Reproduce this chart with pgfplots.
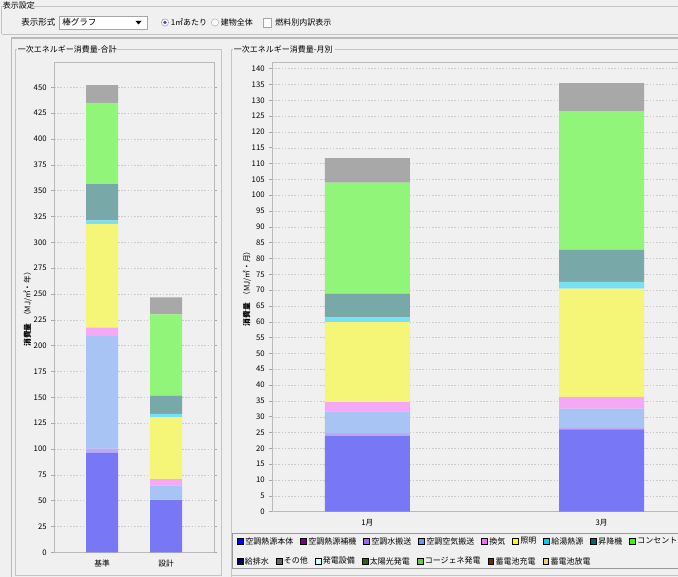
\documentclass[border=0pt]{standalone}
\usepackage{fontspec}
\setmainfont{Noto Sans CJK JP}
\usepackage{pgfplots}
\pgfplotsset{compat=1.18}
\usepackage{pgfplotstable}

\definecolor{bg}{HTML}{F0F0F0}
\definecolor{gc}{HTML}{C4C4C4}
% bar colours (as drawn, semi-transparent look)
\definecolor{c1}{HTML}{7878F7}
\definecolor{c3}{HTML}{BEA8F5}
\definecolor{c4}{HTML}{A8C4F5}
\definecolor{c5}{HTML}{F5A8F5}
\definecolor{c6}{HTML}{F5F578}
\definecolor{c7}{HTML}{78E0F5}
\definecolor{c8}{HTML}{78A8A8}
\definecolor{c9}{HTML}{90F578}
\definecolor{c11}{HTML}{A8A8A8}
% legend colours
\definecolor{L1}{HTML}{0000FF}
\definecolor{L2}{HTML}{800080}
\definecolor{L3}{HTML}{9966FF}
\definecolor{L4}{HTML}{6699FF}
\definecolor{L5}{HTML}{FF66FF}
\definecolor{L6}{HTML}{FFFF00}
\definecolor{L7}{HTML}{00CCFF}
\definecolor{L8}{HTML}{006666}
\definecolor{L9}{HTML}{33FF00}
\definecolor{L10}{HTML}{000066}
\definecolor{L11}{HTML}{666666}
\definecolor{L12}{HTML}{CCFFFF}
\definecolor{L13}{HTML}{336600}
\definecolor{L14}{HTML}{66CC33}
\definecolor{L15}{HTML}{663300}
\definecolor{L16}{HTML}{FFCC66}

% columns: a 空調熱源本体, b 空調水搬送, c 空調空気搬送, d 換気, e 照明, f 給湯熱源, g 昇降機, h コンセント, i その他
\pgfplotstableread{
x a b c d e f g h i
0 96.4 3.9 109.3 7.8 100.3 3.6 35.1 78.7 17.1
1 50.6 0.4 13.5 6.4 59.7 3.5 17.5 78.7 16.5
}\tblTotal
\pgfplotstableread{
x a b c d e f g h i
0 24.0 0.8 6.8 3.0 25.3 1.5 7.5 35.1 7.7
1 26.0 0.4 6.2 3.7 34.2 2.1 10.1 43.9 8.8
}\tblMonth

\newcommand{\sz}{\fontsize{5.8}{6.6}\selectfont}
\newcommand{\lz}{\fontsize{6}{7}\selectfont}
\newcommand{\gz}{\fontsize{6}{7}\selectfont}

\pgfplotsset{
  mystyle/.style={
    scale only axis,
    ybar stacked,
    enlargelimits=false,
    axis background/.style={fill=bg},
    axis line style={draw=gray!55, line width=0.6pt},
    ymajorgrids,
    grid style={draw=gray!40, dash pattern=on 1.2pt off 1.2pt, line width=0.3pt},
    ytick style={draw=gray!70, line width=0.4pt},
    tick align=outside,
    major tick length=2pt,
    xtick style={draw=none},
    tick label style={font=\sz},
    /pgf/number format/assume math mode=true,
    /pgf/number format/1000 sep={},
    ymin=0,
    xtick={0,1},
    ylabel style={font=\sz},
    legend image code/.code={\fill[##1] (0pt,-2.2pt) rectangle (4.4pt,2.2pt);},
    legend style={draw=none, fill=none, font=\gz, inner sep=0pt,
      nodes={inner sep=0.9pt},
      /tikz/every odd column/.append style={column sep=0.45pt},
      /tikz/every even column/.append style={column sep=4.2pt}},
  },
}

\begin{document}
\begin{tikzpicture}
\useasboundingbox (0pt,0pt) rectangle (508.5pt,432.75pt);
\fill[bg] (0pt,0pt) rectangle (508.5pt,432.75pt);

\begin{scope}[shift={(0pt,432.75pt)}, x=0.75pt, y=-0.75pt]
  % top settings group
  \draw[gc, line width=0.5pt] (1.5,34) -- (1.5,6.5) -- (2.5,6.5);
  \draw[gc, line width=0.5pt] (34,6.5) -- (680,6.5);
  \draw[gc, line width=0.5pt] (1.5,34) -- (680,34);
  \node[anchor=west, font=\lz, inner sep=0pt] at (2.5,5) {表示設定};
  \node[anchor=west, font=\fontsize{6.4}{7}\selectfont, inner sep=0pt] at (21,22.5) {表示形式};
  \draw[gray!70, fill=white, line width=0.5pt] (59,16) rectangle (147,29);
  \node[anchor=west, font=\fontsize{6.4}{7}\selectfont, inner sep=0pt] at (62,22.5) {棒グラフ};
  \fill[black] (135.5,21) -- (141.5,21) -- (138.5,24.5) -- cycle;
  \draw[gray!70, fill=white, line width=0.4pt] (165,22.5) circle (3.6);
  \fill[blue!60!black!70!white] (165,22.5) circle (1.8);
  \node[anchor=west, font=\lz, inner sep=0pt] at (170.5,22.5) {1㎡あたり};
  \draw[gray!60, fill=white, line width=0.4pt] (215,22.5) circle (3.6);
  \node[anchor=west, font=\lz, inner sep=0pt] at (220.5,22.5) {建物全体};
  \draw[gray!70, fill=white, line width=0.4pt] (263,18.5) rectangle (271.5,27);
  \node[anchor=west, font=\lz, inner sep=0pt] at (275,22.5) {燃料別内訳表示};
  % container
  \draw[gray!55, line width=0.8pt] (11.5,577) -- (11.5,38) -- (680,38);
  % left group box
  \draw[gc, line width=0.5pt] (16.5,49.5) -- (15,49.5) -- (15,575) -- (221,575) -- (221,49.5) -- (115,49.5);
  \node[anchor=west, font=\lz, inner sep=0pt] at (17.5,49.5) {一次エネルギー消費量-合計};
  % right group box
  \draw[gc, line width=0.5pt] (232.5,49.5) -- (231,49.5) -- (231,577);
  \draw[gc, line width=0.5pt] (335,49.5) -- (680,49.5);
  \node[anchor=west, font=\lz, inner sep=0pt] at (233.5,49.5) {一次エネルギー消費量-月別};
  % legend frame
  \draw[gray!80, line width=0.6pt] (232.5,533.5) rectangle (690,568.5);
  \draw[gc, line width=0.6pt] (231,575.5) -- (690,575.5);
\end{scope}

\begin{scope}
\clip (0pt,0pt) rectangle (508.5pt,432.75pt);

% ---------- left axis: total ----------
\begin{axis}[mystyle,
  at={(40.5pt,18.5pt)}, anchor=south west,
  width=120pt, height=367.7pt,
  xmin=-0.75, xmax=1.75, ymax=474.5,
  ytick={0,25,...,450},
  xticklabels={基準,設計},
  bar width=24pt,
  ylabel={{\bfseries 消費量}\ \ （MJ/㎡・年）},
  ylabel style={at={(axis description cs:-0.165,0.5)}, anchor=center},
  legend columns=7,
  legend style={at={(axis description cs:1.14,-0.019)}, anchor=west},
]
\addplot[fill=c1, draw=none, forget plot] table[x=x,y=a]{\tblTotal};
\addplot[fill=c3, draw=none, forget plot] table[x=x,y=b]{\tblTotal};
\addplot[fill=c4, draw=none, forget plot] table[x=x,y=c]{\tblTotal};
\addplot[fill=c5, draw=none, forget plot] table[x=x,y=d]{\tblTotal};
\addplot[fill=c6, draw=none, forget plot] table[x=x,y=e]{\tblTotal};
\addplot[fill=c7, draw=none, forget plot] table[x=x,y=f]{\tblTotal};
\addplot[fill=c8, draw=none, forget plot] table[x=x,y=g]{\tblTotal};
\addplot[fill=c9, draw=none, forget plot] table[x=x,y=h]{\tblTotal};
\addplot[fill=c11, draw=none, forget plot] table[x=x,y=i]{\tblTotal};
\addlegendimage{fill=L10}\addlegendentry{給排水}
\addlegendimage{fill=L11}\addlegendentry{その他}
\addlegendimage{fill=L12}\addlegendentry{発電設備}
\addlegendimage{fill=L13}\addlegendentry{太陽光発電}
\addlegendimage{fill=L14}\addlegendentry{コージェネ発電}
\addlegendimage{fill=L15}\addlegendentry{蓄電池充電}
\addlegendimage{fill=L16}\addlegendentry{蓄電池放電}
\end{axis}

% ---------- right axis: monthly ----------
\begin{axis}[mystyle,
  at={(204pt,48.98pt)}, anchor=south west,
  width=318.75pt, height=337.3pt,
  xmin=-0.407, xmax=1.407, ymax=142.1,
  ytick={0,5,...,140},
  xticklabels={1月,3月},
  bar width=63.75pt,
  ylabel={{\bfseries 消費量}\ \ （MJ/㎡・月）},
  ylabel style={at={(axis description cs:-0.059,0.5)}, anchor=center},
  legend columns=9,
  legend style={at={(axis description cs:-0.0824,-0.0667)}, anchor=west},
]
\addplot[fill=c1, draw=none, forget plot] table[x=x,y=a]{\tblMonth};
\addplot[fill=c3, draw=none, forget plot] table[x=x,y=b]{\tblMonth};
\addplot[fill=c4, draw=none, forget plot] table[x=x,y=c]{\tblMonth};
\addplot[fill=c5, draw=none, forget plot] table[x=x,y=d]{\tblMonth};
\addplot[fill=c6, draw=none, forget plot] table[x=x,y=e]{\tblMonth};
\addplot[fill=c7, draw=none, forget plot] table[x=x,y=f]{\tblMonth};
\addplot[fill=c8, draw=none, forget plot] table[x=x,y=g]{\tblMonth};
\addplot[fill=c9, draw=none, forget plot] table[x=x,y=h]{\tblMonth};
\addplot[fill=c11, draw=none, forget plot] table[x=x,y=i]{\tblMonth};
\addlegendimage{fill=L1}\addlegendentry{空調熱源本体}
\addlegendimage{fill=L2}\addlegendentry{空調熱源補機}
\addlegendimage{fill=L3}\addlegendentry{空調水搬送}
\addlegendimage{fill=L4}\addlegendentry{空調空気搬送}
\addlegendimage{fill=L5}\addlegendentry{換気}
\addlegendimage{fill=L6}\addlegendentry{照明}
\addlegendimage{fill=L7}\addlegendentry{給湯熱源}
\addlegendimage{fill=L8}\addlegendentry{昇降機}
\addlegendimage{fill=L9}\addlegendentry{コンセント}
\end{axis}
\end{scope}
\end{tikzpicture}
\end{document}
